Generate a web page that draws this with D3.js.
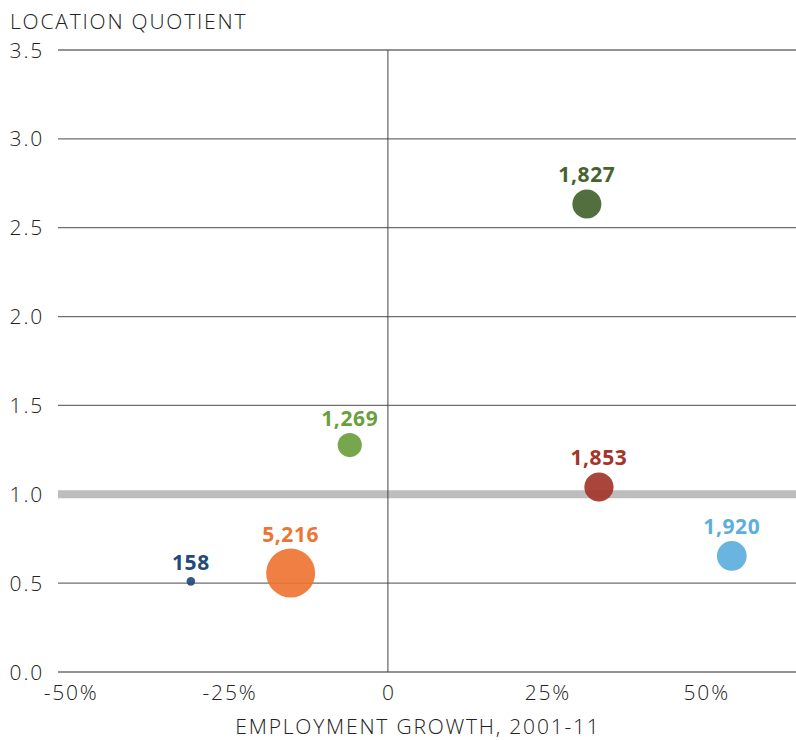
<!DOCTYPE html>
<html>
<head>
<meta charset="utf-8">
<script src="https://cdn.jsdelivr.net/npm/d3@7"></script>
<style>
  body { margin: 0; background: #fff; }
  svg text { font-family: "Open Sans", Lato, sans-serif; }
</style>
</head>
<body>
<svg id="chart" width="796" height="740"></svg>
<script>
// bubble data
const growth = [-31.0, -15.3, -6.0, 31.3, 33.2, 54.1];
const quotient = [0.51, 0.557, 1.277, 2.634, 1.041, 0.653];
const jobs = [158, 5216, 1269, 1827, 1853, 1920];
const colors = ["#234b7a", "#ef7433", "#6b9f3e", "#45632f", "#a3352a", "#5cafdd"];

const yTicks = [0, 0.5, 1, 1.5, 2, 2.5, 3, 3.5];
const xTicks = [-50, -25, 0, 25, 50];

const svg = d3.select("#chart");

var margin = {top: 50, right: 0, bottom: 68, left: 58},
    width = 796, height = 740;

const xScale = d3.scaleLinear()
    .domain([-51.9, 64.2])
    .range([margin.left, width - margin.right]);

const yScale = d3.scaleLinear()
    .domain([0, 3.5])
    .range([height - margin.bottom, margin.top]);

const rScale = d3.scaleSqrt()
    .domain([0, 5216])
    .range([0, 24.5]);

// horizontal grid lines
svg.append("g")
    .selectAll("line")
    .data(yTicks)
    .join("line")
    .attr("x1", margin.left)
    .attr("x2", width - margin.right)
    .attr("y1", d => yScale(d))
    .attr("y2", d => yScale(d))
    .attr("stroke", "#6e6e6e")
    .attr("stroke-width", 1.3);

// reference line at 1.0
svg.append("line")
    .attr("x1", margin.left)
    .attr("x2", width - margin.right)
    .attr("y1", yScale(1))
    .attr("y2", yScale(1))
    .attr("stroke", "#bdbdbd")
    .attr("stroke-width", 8);

// zero growth line
svg.append("line")
    .attr("x1", xScale(0))
    .attr("x2", xScale(0))
    .attr("y1", yScale(3.5))
    .attr("y2", yScale(0))
    .attr("stroke", "#444")
    .attr("stroke-width", 1);

// y tick labels
svg.append("g")
    .selectAll("text")
    .data(yTicks)
    .join("text")
    .attr("x", 44)
    .attr("y", d => yScale(d) + 7.5)
    .attr("text-anchor", "end")
    .attr("font-size", 21)
    .attr("font-weight", 300)
    .attr("letter-spacing", 1.8)
    .attr("fill", "#222")
    .text(d => d.toFixed(1));

// x tick labels
svg.append("g")
    .selectAll("text")
    .data(xTicks)
    .join("text")
    .attr("x", d => xScale(d) + 1)
    .attr("y", 700)
    .attr("text-anchor", "middle")
    .attr("font-size", 21)
    .attr("font-weight", 300)
    .attr("letter-spacing", 1.8)
    .attr("fill", "#222")
    .text(d => d == 0 ? "0" : d + "%");

// axis titles
svg.append("text")
    .attr("x", 10)
    .attr("y", 29)
    .attr("font-size", 21)
    .attr("font-weight", 300)
    .attr("letter-spacing", 1.8)
    .attr("fill", "#222")
    .text("LOCATION QUOTIENT");

svg.append("text")
    .attr("x", 418)
    .attr("y", 734)
    .attr("text-anchor", "middle")
    .attr("font-size", 21)
    .attr("font-weight", 300)
    .attr("letter-spacing", 1.8)
    .attr("fill", "#222")
    .text("EMPLOYMENT GROWTH, 2001-11");

// bubbles
const points = jobs.map((v, i) => ({x: growth[i], y: quotient[i], v: v, c: colors[i]}));

svg.append("g")
    .selectAll("circle")
    .data(points)
    .join("circle")
    .attr("cx", d => xScale(d.x))
    .attr("cy", d => yScale(d.y))
    .attr("r", d => rScale(d.v))
    .attr("fill", d => d.c)
    .attr("opacity", 0.92);

// bubble labels
svg.append("g")
    .selectAll("text")
    .data(points)
    .join("text")
    .attr("x", d => xScale(d.x))
    .attr("y", d => yScale(d.y) - rScale(d.v) - 7)
    .attr("text-anchor", "middle")
    .attr("font-size", 21)
    .attr("font-weight", 700)
    .attr("letter-spacing", 0.6)
    .attr("fill", d => d.c)
    .text(d => d3.format(",")(d.v));
</script>
</body>
</html>
